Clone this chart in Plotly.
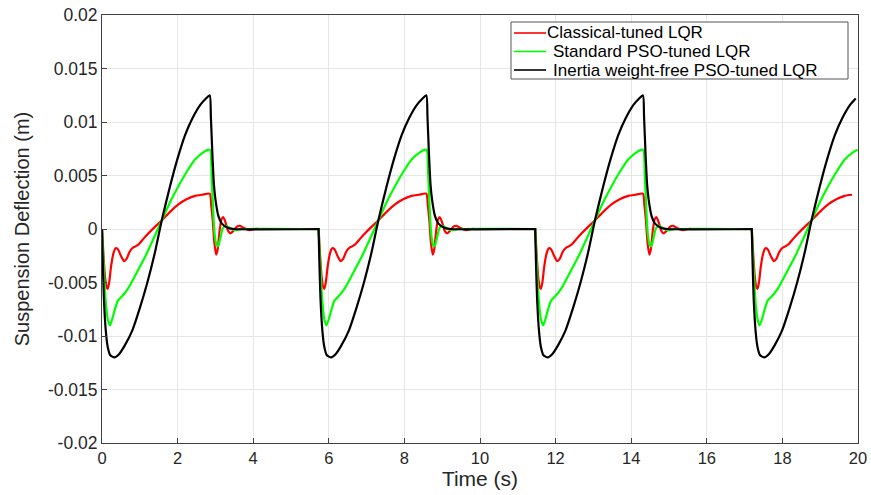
import plotly.graph_objects as go

# Cycle start times (s) of the repeated road disturbance
cycle_starts = [0.0, 5.73, 11.46, 17.19]

# One cycle of each response (local time in s, deflection in m)
t_red = [0, 0.04, 0.08, 0.12, 0.15, 0.19, 0.24, 0.30, 0.36, 0.42, 0.50, 0.58, 0.65, 0.72,
         0.80, 0.90, 0.98, 1.10, 1.23, 1.40, 1.58, 1.80, 2.02, 2.25, 2.46, 2.65, 2.85,
         2.89, 2.93, 2.97, 3.02, 3.06, 3.11, 3.16, 3.21, 3.27, 3.34, 3.40, 3.47, 3.56,
         3.65, 3.75, 3.90, 4.05, 4.20, 5.73]
y_red = [0, -0.0025, -0.0045, -0.0054, -0.0056, -0.0050, -0.0035, -0.0023, -0.0018,
         -0.0019, -0.0025, -0.0030, -0.0028, -0.0022, -0.0018, -0.0016, -0.0014, -0.0009,
         -0.0004, 0.0002, 0.0008, 0.0016, 0.0023, 0.0028, 0.0031, 0.0032, 0.0033,
         0.0022, 0.0008, -0.0012, -0.0024, -0.0019, -0.0002, 0.0009, 0.0011, 0.0006,
         -0.0002, -0.0004, -0.0002, 0.0002, 0.0003, 0.0001, -0.0001, 0.0, 0.0, 0.0]

t_green = [0, 0.05, 0.10, 0.15, 0.21, 0.28, 0.35, 0.42, 0.50, 0.60, 0.70, 0.90, 1.14,
           1.35, 1.58, 1.80, 2.02, 2.25, 2.46, 2.65, 2.80, 2.86, 2.90, 2.94, 2.98, 3.03,
           3.07, 3.12, 3.20, 3.28, 3.38, 3.50, 3.70, 5.73]
y_green = [0, -0.0040, -0.0068, -0.0084, -0.0090, -0.0083, -0.0074, -0.0067, -0.0064,
           -0.0060, -0.0055, -0.0042, -0.0026, -0.0010, 0.0008, 0.0025, 0.0040, 0.0054,
           0.0065, 0.0071, 0.0074, 0.0074, 0.0050, 0.0018, -0.0005, -0.0015, -0.0016,
           -0.0010, 0.0001, 0.0003, 0.0001, -0.0001, 0.0, 0.0]

t_black = [0, 0.02, 0.05, 0.10, 0.15, 0.22, 0.33, 0.45, 0.60, 0.80, 1.00, 1.20, 1.40,
           1.58, 1.80, 2.00, 2.20, 2.40, 2.60, 2.75, 2.85, 2.88, 2.92, 2.96, 3.00, 3.08,
           3.17, 3.34, 3.50, 5.73]
y_black = [0, -0.0030, -0.0065, -0.0095, -0.0110, -0.0118, -0.0120, -0.0117, -0.0109,
           -0.0095, -0.0074, -0.0050, -0.0022, 0.0008, 0.0040, 0.0066, 0.0088, 0.0104,
           0.0116, 0.0122, 0.0125, 0.0105, 0.0070, 0.0042, 0.0028, 0.0012, 0.0005,
           0.0001, 0.0, 0.0]

names = ["Classical-tuned LQR", "Standard PSO-tuned LQR", "Inertia weight-free PSO-tuned LQR"]
colors = ["#ff0000", "#00ff00", "#000000"]
series = list(zip(names, [t_red, t_green, t_black], [y_red, y_green, y_black], colors))

x_max = 20.0
y_ticks = [0.02, 0.015, 0.01, 0.005, 0, -0.005, -0.01, -0.015, -0.02]
y_tick_text = ["0.02", "0.015", "0.01", "0.005", "0", "-0.005", "-0.01", "-0.015", "-0.02"]
x_ticks = [0, 2, 4, 6, 8, 10, 12, 14, 16, 18, 20]


def tile(ts, ys):
    xs_out, ys_out = [], []
    for s in cycle_starts:
        for t, y in zip(ts, ys):
            if s + t <= x_max + 1e-9:
                xs_out.append(s + t)
                ys_out.append(y)
    return xs_out, ys_out


fig = go.Figure()
for name, ts, ys, col in series:
    xx, yy = tile(ts, ys)
    fig.add_trace(go.Scatter(x=xx, y=yy, mode="lines", name=name, showlegend=False,
                             line=dict(color=col, width=2.2, shape="spline", smoothing=0.6)))

# ---- layout geometry (pixels) ----
W, H = 871, 495
ML, MR, MT, MB = 102, 13, 15, 52
PW, PH = W - ML - MR, H - MT - MB


def px(xp):
    return (xp - ML) / PW


def py(yp):
    return (H - MB - yp) / PH


# Legend box drawn in paper coordinates (MATLAB-style legend)
box_l, box_r, box_t, box_b = 511, 848, 22, 79
row_y = [33, 51.5, 70]
line_x0, line_x1 = 514, 546
text_x = [547, 553, 553]

shapes = [dict(type="rect", xref="paper", yref="paper",
               x0=px(box_l), x1=px(box_r), y0=py(box_b), y1=py(box_t),
               line=dict(color="#555555", width=1), fillcolor="white", layer="above")]
annotations = []
for i, (name, col) in enumerate(zip(names, colors)):
    shapes.append(dict(type="line", xref="paper", yref="paper",
                       x0=px(line_x0), x1=px(line_x1), y0=py(row_y[i]), y1=py(row_y[i]),
                       line=dict(color=col, width=1.6), layer="above"))
    annotations.append(dict(text=name, xref="paper", yref="paper", x=px(text_x[i]),
                            y=py(row_y[i]), xanchor="left", yanchor="middle", showarrow=False,
                            font=dict(size=17, color="#000000"), xshift=-2))

axis_col = "#404040"
txt_col = "#262626"
fig.update_layout(
    width=W, height=H,
    margin=dict(l=ML, r=MR, t=MT, b=MB, autoexpand=False),
    paper_bgcolor="white", plot_bgcolor="white",
    font=dict(family="Liberation Sans, Arial, sans-serif", color=txt_col),
    showlegend=False,
    shapes=shapes, annotations=annotations,
)
fig.update_xaxes(range=[0, 20], tickvals=x_ticks, ticks="inside", ticklen=5,
                 tickcolor=axis_col, showline=True, linecolor=axis_col, linewidth=1,
                 mirror=True, showgrid=True, gridcolor="#e6e6e6", gridwidth=1,
                 zeroline=False, tickfont=dict(size=16.5, color=txt_col),
                 title=dict(text="Time (s)", font=dict(size=21, color=txt_col), standoff=3))
fig.update_yaxes(range=[-0.02, 0.02], tickvals=y_ticks, ticktext=y_tick_text,
                 ticks="inside", ticklen=5, tickcolor=axis_col, showline=True,
                 linecolor=axis_col, linewidth=1, mirror=True, showgrid=True,
                 gridcolor="#e6e6e6", gridwidth=1, zeroline=False,
                 tickfont=dict(size=17.5, color=txt_col),
                 title=dict(text="Suspension Deflection (m)", font=dict(size=20, color=txt_col),
                            standoff=12))

fig.write_html("out.html")
